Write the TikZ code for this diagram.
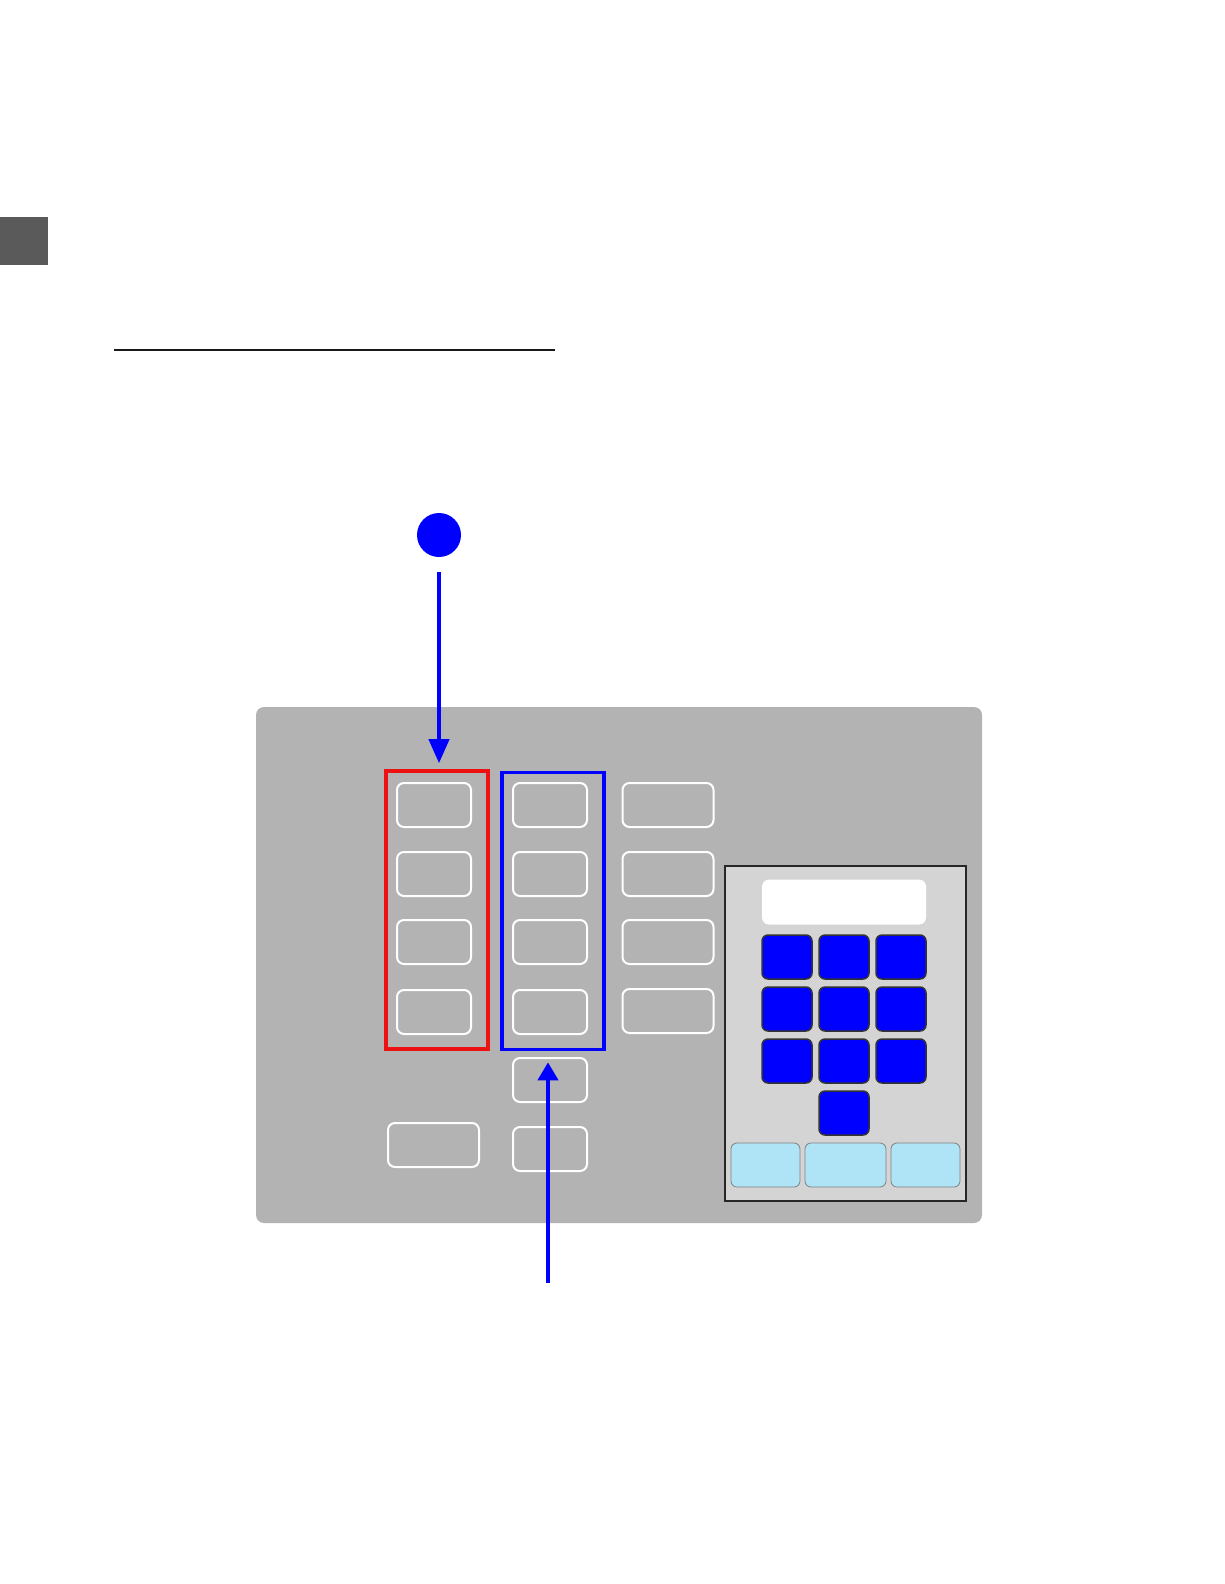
\documentclass[tikz,border=0pt]{standalone}
\usetikzlibrary{arrows.meta}
\definecolor{tabgray}{HTML}{5A5A5A}
\definecolor{panelgray}{HTML}{B3B3B3}
\definecolor{padgray}{HTML}{D4D4D4}
\definecolor{keyblue}{HTML}{0000FF}
\definecolor{softkey}{HTML}{AEE4F6}
\definecolor{boxred}{HTML}{EE1111}
\tikzset{
  panelbtn/.style={draw=white, line width=2pt, rounded corners=7pt, inner sep=0pt, minimum width=74pt, minimum height=44pt},
  widebtn/.style={panelbtn, minimum width=91pt},
  keybtn/.style={draw=black!80, fill=keyblue, line width=1.5pt, rounded corners=6pt, inner sep=0pt, minimum width=50pt, minimum height=44pt},
  softbtn/.style={draw=black!50, fill=softkey, line width=0.8pt, rounded corners=6pt, inner sep=0pt, minimum height=44pt},
  groupbox/.style={line width=3.6pt, inner sep=0pt},
  callout/.style={draw=keyblue, line width=4pt, -{Triangle[width=20pt,length=24pt]}},
}
\begin{document}
\begin{tikzpicture}[x=1pt,y=-1pt]
\useasboundingbox (0,0) rectangle (1224,1584);
% page decorations
\fill[tabgray] (0,217) rectangle (48,265);
\coordinate (ruleL) at (114,350);
\coordinate (ruleR) at (555,350);
\draw[black!90, line width=1.4pt] (ruleL) -- (ruleR);
% front panel
\fill[panelgray, rounded corners=8pt] (256,707) rectangle (982,1223);
% column 1
\foreach \r/\y in {1/805,2/874,3/942,4/1012}{
  \node[panelbtn] (a\r) at (434,\y) {};
}
% column 2
\foreach \r/\y in {1/805,2/874,3/942,4/1012,5/1080,6/1149}{
  \node[panelbtn] (b\r) at (550,\y) {};
}
% column 3
\foreach \r/\y in {1/805,2/874,3/942,4/1011}{
  \node[widebtn] (c\r) at (668,\y) {};
}
\node[widebtn] (extra) at (433.5,1145) {};
% group boxes
\node[groupbox, draw=boxred, minimum width=102pt, minimum height=278pt] (redbox) at (437,910) {};
\node[groupbox, draw=keyblue, minimum width=102pt, minimum height=277pt] (bluebox) at (553,911) {};
% keypad
\node[draw=black!85, fill=padgray, line width=2pt, inner sep=0pt, minimum width=241pt, minimum height=335pt] (pad) at (845,1033.5) {};
\node[fill=white, rounded corners=7pt, inner sep=0pt, minimum width=164pt, minimum height=45pt] (display) at (844,902) {};
\foreach \r/\y in {1/957,2/1009,3/1061}{
  \node[keybtn] (k\r1) at (787,\y) {};
  \node[keybtn] (k\r2) at (844,\y) {};
  \node[keybtn] (k\r3) at (901,\y) {};
}
\node[keybtn] (k0) at (844,1113) {};
\node[softbtn, minimum width=69pt] (s1) at (765.5,1165) {};
\node[softbtn, minimum width=81pt] (s2) at (845.5,1165) {};
\node[softbtn, minimum width=69pt] (s3) at (925.5,1165) {};
% callouts
\node[circle, fill=keyblue, minimum size=44pt, inner sep=0pt] (marker) at (439,535) {};
\draw[callout, shorten <=15pt, shorten >=6pt] (marker.south) -- (marker.south |- redbox.north);
\coordinate (tail) at (548,1283);
\draw[draw=keyblue, line width=4pt, -{Triangle[width=20pt,length=18pt]}, shorten >=11pt] (tail) -- (tail |- bluebox.south);
\end{tikzpicture}
\end{document}
